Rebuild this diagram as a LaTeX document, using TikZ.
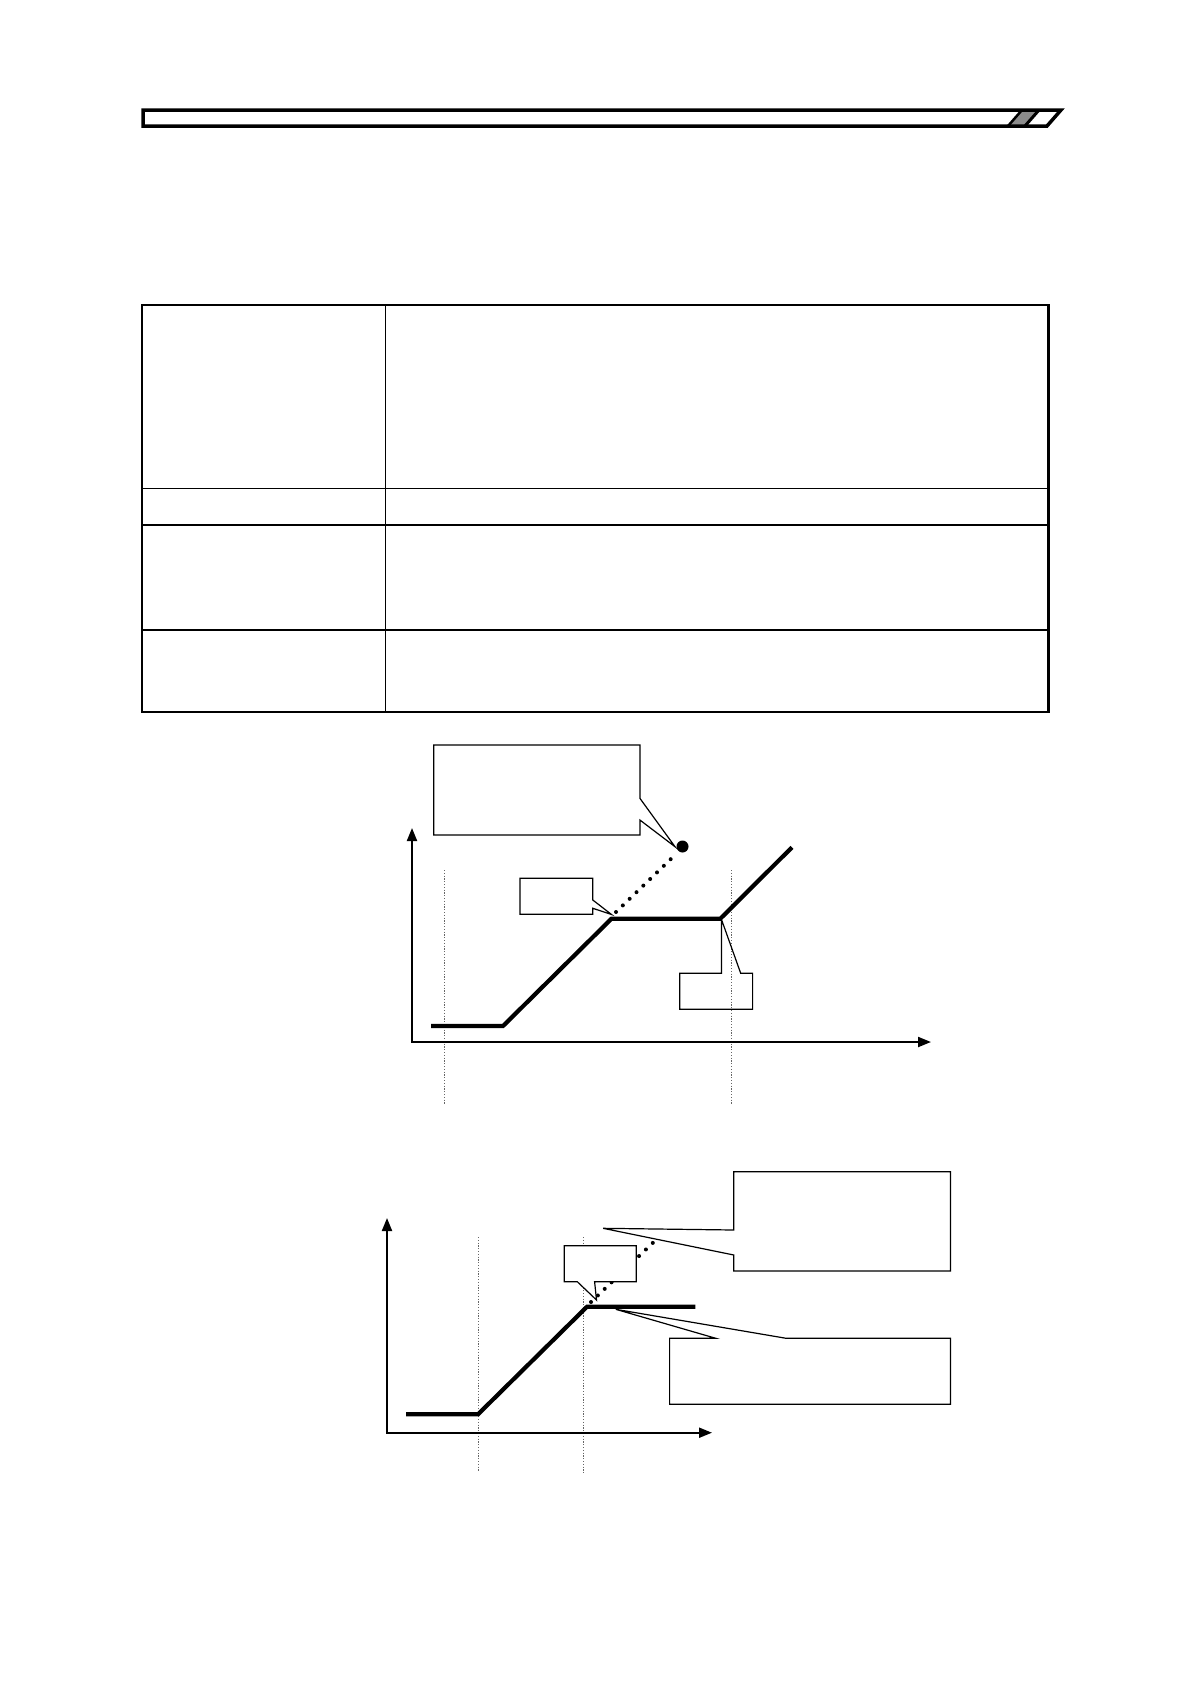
\documentclass[tikz,border=0pt]{standalone}
\usetikzlibrary{arrows.meta}
\begin{document}
\begin{tikzpicture}[x=1pt,y=-1pt,
  axis/.style={line width=2pt,{Triangle[length=13pt,width=10pt]}-{Triangle[length=13pt,width=10pt]}},
  curve/.style={line width=4.2pt,line join=miter},
  guide/.style={line width=0.9pt,dash pattern=on 1.2pt off 1.6pt,black!60},
  dotline/.style={line width=4pt,line cap=round,dash pattern=on 0pt off 9.5pt},
  callout/.style={draw,line width=1.2pt,line join=miter},
  calloutfill/.style={callout,fill=white},
  tabouter/.style={line width=2.6pt},
  tabinner/.style={line width=1.5pt}]
\useasboundingbox (0,0) rectangle (1190,1684);
\fill[white] (0,0) rectangle (1190,1684);

% ---------- header bar ----------
\fill[black!45] (1008,126) -- (1022,110) -- (1038,110) -- (1024,126) -- cycle;
\draw[line width=2.5pt] (1008,126) -- (1022,110);
\draw[line width=3pt] (1025,126) -- (1039,110);
\draw[line width=3.5pt,line join=miter] (143,110) -- (1061,110) -- (1047,126) -- (143,126) -- cycle;

% ---------- table ----------
\coordinate (tl) at (141.8,305);
\coordinate (br) at (1048.2,712);
\draw[tabinner] (385.6,305) -- (385.6,712);
\draw[tabinner] (141.8,488.5) -- (1048.2,488.5);
\draw[tabinner] (141.8,525.2) -- (1048.2,525.2);
\draw[tabinner] (141.8,630) -- (1048.2,630);
\draw[tabouter] (tl) rectangle (br);

% ---------- chart 1 ----------
\draw[guide] (444,870) -- (444,1105);
\draw[guide] (731,870) -- (731,1105);
\coordinate (o1) at (412,1042);
\draw[axis] (412,828) -- (o1) -- (931,1042);
\draw[curve] (431,1026) -- (503,1026) -- (611.5,918.7) -- (720.3,918.7) -- (792,847.3);
\draw[dotline] (616,912) -- (675,855);
\fill (682.5,846.5) circle (6);
\draw[callout] (433.8,745) -- (639.9,745) -- (639.9,798.3) -- (675,846.7) -- (639.9,820) -- (639.9,835) -- (433.8,835) -- cycle;
\draw[callout] (520,878.3) -- (592.8,878.3) -- (592.8,900) -- (611.5,914.5) -- (592.8,908.3) -- (592.8,914.3) -- (520,914.3) -- cycle;
\draw[callout] (679.7,973.3) -- (721.5,973.3) -- (721.5,919.5) -- (740.7,973.3) -- (752.6,973.3) -- (752.6,1009.3) -- (679.7,1009.3) -- cycle;

% ---------- chart 2 ----------
\draw[guide] (478,1237) -- (478,1471);
\draw[guide] (583,1237) -- (583,1473);
\coordinate (o2) at (387,1432.7);
\draw[axis] (387,1218) -- (o2) -- (712,1432.7);
\draw[curve] (406.2,1414.3) -- (478,1414.3) -- (587,1306.7) -- (695.4,1306.7);
\draw[dotline] (591,1302) -- (660,1236);
\draw[calloutfill] (564.2,1245.7) -- (636.2,1245.7) -- (636.2,1281.7) -- (594.6,1281.7) -- (596.5,1300) -- (577.3,1281.7) -- (564.2,1281.7) -- cycle;
\draw[calloutfill] (733.8,1171.7) -- (950.4,1171.7) -- (950.4,1271) -- (733.8,1271) -- (733.8,1255) -- (603.1,1228.3) -- (733.8,1230) -- cycle;
\draw[calloutfill] (669.6,1338.3) -- (715.8,1338.3) -- (615.8,1309.3) -- (786.2,1338.3) -- (950.4,1338.3) -- (950.4,1404.3) -- (669.6,1404.3) -- cycle;
\end{tikzpicture}
\end{document}
